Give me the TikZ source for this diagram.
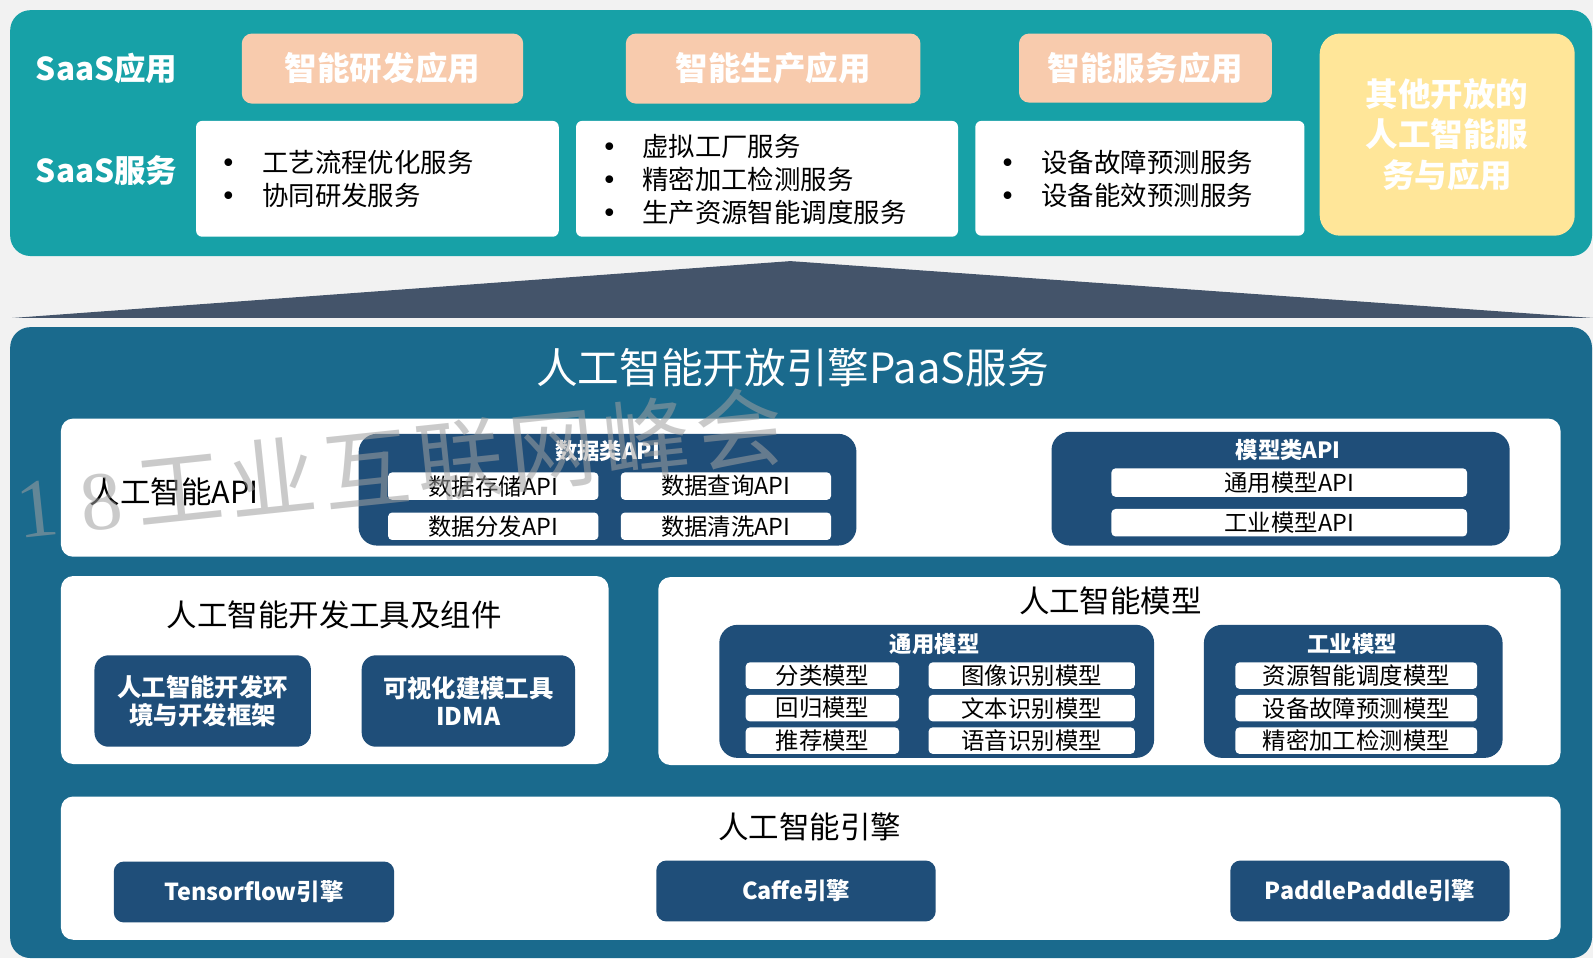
\documentclass[tikz,border=0pt]{standalone}
\usepackage{fontspec}
\setmainfont{Noto Sans CJK SC}
\newfontfamily\wmserif{Liberation Serif}
\newfontfamily\bulfont{DejaVu Sans}
\definecolor{bgc}{HTML}{F2F2F2}
\definecolor{tealc}{HTML}{17A1A7}
\definecolor{peach}{HTML}{F8CBAD}
\definecolor{yellowc}{HTML}{FFE699}
\definecolor{slate}{HTML}{44546A}
\definecolor{bluec}{HTML}{1A6A8D}
\definecolor{navy}{HTML}{1F4E79}
\definecolor{wmgray}{HTML}{A0A0A0}
\newcommand\bul[1]{\makebox[#1][l]{{\bulfont •}}}
\newcommand\wmd[1]{\makebox[63pt]{\wmserif\fontsize{82}{90}\selectfont #1}}
\newcommand\wmc[1]{\makebox[92.5pt]{#1}}
\tikzset{
  box/.style={inner sep=0pt, outer sep=0pt, draw=none},
  panel/.style={box, rounded corners=20pt},
  lbl/.style={inner sep=0pt, text=white, font=\fontsize{31}{36}\selectfont\bfseries},
  app/.style={box, fill=peach, rounded corners=10pt, text=white, font=\fontsize{32}{38}\selectfont\bfseries},
  svc/.style={box, fill=white, rounded corners=6pt},
  svctext/.style={inner sep=0pt, align=left, anchor=west, font=\fontsize{26}{32.5}\selectfont},
  row/.style={box, fill=white, rounded corners=12pt},
  grp/.style={box, fill=navy, rounded corners=18pt},
  hdr/.style={inner sep=0pt, text=white, font=\fontsize{22}{26}\selectfont\bfseries},
  item/.style={box, fill=white, rounded corners=4pt, font=\fontsize{23}{26}\selectfont},
  tool/.style={box, fill=navy, rounded corners=14pt, text=white, align=center, font=\fontsize{24}{27}\selectfont\bfseries},
  eng/.style={box, fill=navy, rounded corners=10pt, text=white, font=\fontsize{23}{27}\selectfont\bfseries},
  ttl/.style={inner sep=0pt, font=\fontsize{30}{36}\selectfont},
}
\begin{document}
\begin{tikzpicture}[x=1pt,y=-1pt]
\fill[bgc] (0,0) rectangle (1568,943);
\useasboundingbox (0,0) rectangle (1568,943);

% SaaS layer
\node[panel, fill=tealc, minimum width=1557pt, minimum height=242pt] (saas) at (788.5,131) {};
\node[lbl] (saasapp) at (105,67) {SaaS应用};
\node[lbl] (saassvc) at (105,168) {SaaS服务};
\node[app, minimum width=277pt, minimum height=69pt] (app1) at (376.5,67.5) {智能研发应用};
\node[app, minimum width=290pt, minimum height=69pt] (app2) at (761,67.5) {智能生产应用};
\node[app, minimum width=249pt, minimum height=68pt] (app3) at (1127.5,67) {智能服务应用};
\node[box, fill=yellowc, rounded corners=20pt, minimum width=251pt, minimum height=199pt, text=white, align=center, font=\fontsize{32}{39.5}\selectfont\bfseries] (other) at (1424.5,132.5) {其他开放的\\人工智能服\\务与应用};
\node[svc, minimum width=357pt, minimum height=114pt] (svc1) at (371.5,176) {};
\node[svctext] (svc1t) at (217,176.5) {\bul{41pt}工艺流程优化服务\\\bul{41pt}协同研发服务};
\node[svc, minimum width=376pt, minimum height=114pt] (svc2) at (755,176) {};
\node[svctext] (svc2t) at (592,177) {\bul{40pt}虚拟工厂服务\\\bul{40pt}精密加工检测服务\\\bul{40pt}生产资源智能调度服务};
\node[svc, minimum width=324pt, minimum height=113pt] (svc3) at (1122,175.5) {};
\node[svctext] (svc3t) at (984,176) {\bul{41pt}设备故障预测服务\\\bul{41pt}设备能效预测服务};

% roof
\fill[slate] (12,313) -- (778,257) -- (1568,313) -- cycle;

% PaaS layer
\node[panel, fill=bluec, minimum width=1557pt, minimum height=621pt] (paas) at (788.5,632.5) {};
\node[inner sep=0pt, text=white, font=\fontsize{41}{48}\selectfont] (paast) at (780,362) {人工智能开放引擎PaaS服务};

% row 1
\node[row, minimum width=1476pt, minimum height=136pt] (r1) at (798,480) {};
\node[ttl, anchor=west] (apit) at (88,484) {人工智能API};
\node[grp, minimum width=490pt, minimum height=110pt] (dapi) at (598,482) {};
\node[hdr] (dapih) at (598,444) {数据类API};
\node[item, minimum width=207pt, minimum height=27pt] (d1) at (485.5,478.5) {数据存储API};
\node[item, minimum width=207pt, minimum height=27pt] (d2) at (714.5,478.5) {数据查询API};
\node[item, minimum width=207pt, minimum height=27pt] (d3) at (485.5,518) {数据分发API};
\node[item, minimum width=207pt, minimum height=27pt] (d4) at (714.5,518) {数据清洗API};
\node[grp, minimum width=451pt, minimum height=112pt] (mapi) at (1260.5,481) {};
\node[hdr] (mapih) at (1268,443) {模型类API};
\node[item, minimum width=350pt, minimum height=28pt] (m1) at (1269,475) {通用模型API};
\node[item, minimum width=350pt, minimum height=27pt] (m2) at (1269,514.5) {工业模型API};

% row 2 left
\node[row, minimum width=539pt, minimum height=185pt] (r2l) at (329.5,659.5) {};
\node[ttl] (r2lt) at (329,605) {人工智能开发工具及组件};
\node[tool, minimum width=213pt, minimum height=90pt] (ide) at (199.5,690) {人工智能开发环\\境与开发框架};
\node[tool, minimum width=210pt, minimum height=90pt] (idma) at (461,690) {可视化建模工具\\IDMA};

% row 2 right
\node[row, minimum width=888pt, minimum height=185pt] (r2r) at (1092,660.5) {};
\node[ttl] (r2rt) at (1093,591) {人工智能模型};
\node[grp, minimum width=428pt, minimum height=131pt] (gen) at (922,680.5) {};
\node[hdr] (genh) at (920,634) {通用模型};
\node[item, minimum width=151pt, minimum height=26pt] (g1) at (809.5,665) {分类模型};
\node[item, minimum width=151pt, minimum height=26pt] (g2) at (809.5,697) {回归模型};
\node[item, minimum width=151pt, minimum height=26pt] (g3) at (809.5,729) {推荐模型};
\node[item, minimum width=203pt, minimum height=26pt] (g4) at (1015.5,665) {图像识别模型};
\node[item, minimum width=203pt, minimum height=26pt] (g5) at (1015.5,697) {文本识别模型};
\node[item, minimum width=203pt, minimum height=26pt] (g6) at (1015.5,729) {语音识别模型};
\node[grp, minimum width=294pt, minimum height=131pt] (ind) at (1332,680.5) {};
\node[hdr] (indh) at (1331,634) {工业模型};
\node[item, minimum width=238pt, minimum height=26pt] (i1) at (1335,665) {资源智能调度模型};
\node[item, minimum width=238pt, minimum height=26pt] (i2) at (1335,697) {设备故障预测模型};
\node[item, minimum width=238pt, minimum height=26pt] (i3) at (1335,729) {精密加工检测模型};

% row 3
\node[row, minimum width=1476pt, minimum height=141pt] (r3) at (798,854.5) {};
\node[ttl] (r3t) at (797,814) {人工智能引擎};
\node[eng, minimum width=276pt, minimum height=60pt] (tf) at (250,878) {Tensorflow引擎};
\node[eng, minimum width=275pt, minimum height=60pt] (caffe) at (783.5,877) {Caffe引擎};
\node[eng, minimum width=275pt, minimum height=60pt] (paddle) at (1348.5,877) {PaddlePaddle引擎};

% watermark
\node[inner sep=0pt, rotate=6, text=wmgray, text opacity=0.55, font=\fontsize{86}{90}\selectfont] (wm) at (327,465)
  {\wmd{2}\wmd{0}\wmd{1}\wmd{8}\wmc{工}\wmc{业}\wmc{互}\wmc{联}\wmc{网}\wmc{峰}\wmc{会}};
\end{tikzpicture}
\end{document}
